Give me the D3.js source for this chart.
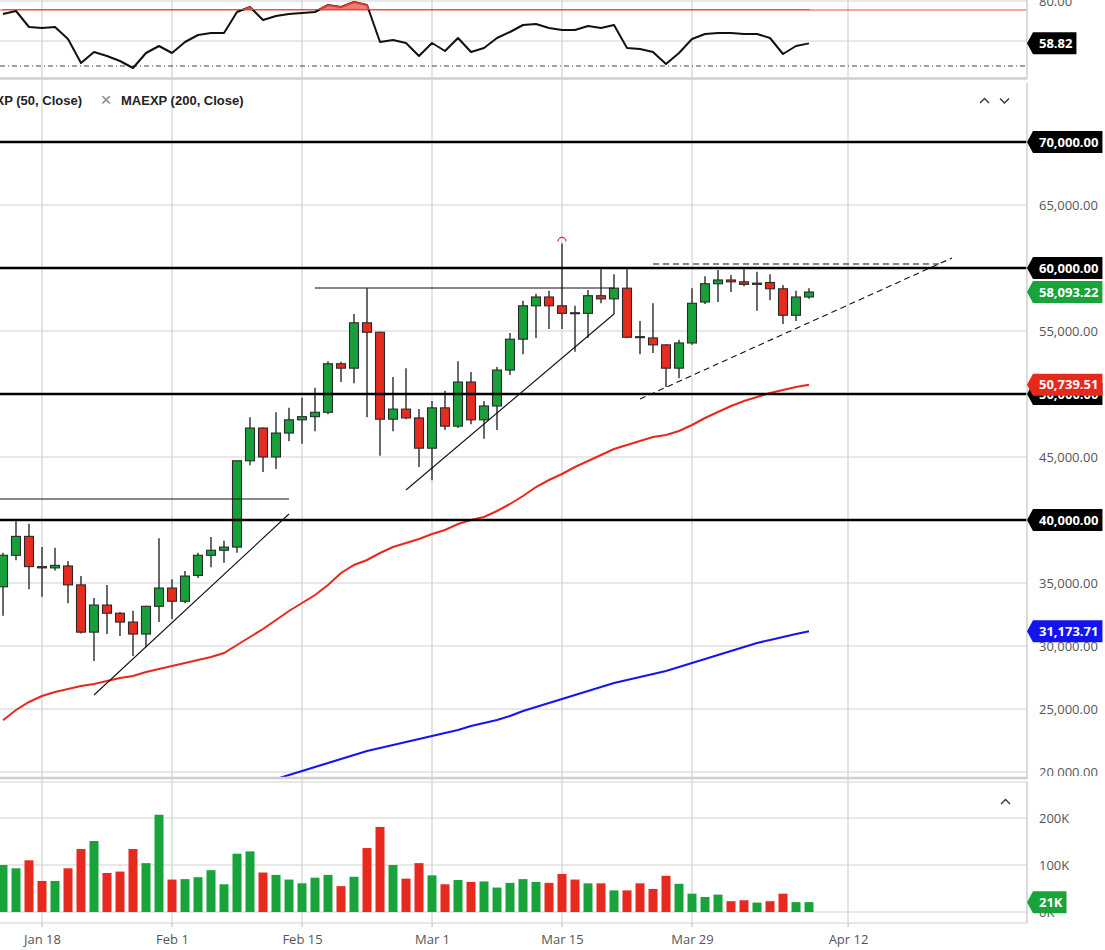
<!DOCTYPE html>
<html><head><meta charset="utf-8">
<script src="https://cdn.jsdelivr.net/npm/d3@7"></script>
<style>
body{margin:0;background:#fff;}
svg{display:block;font-family:"Open Sans",sans-serif;}
</style>
</head><body>
<svg id="chart" width="1105" height="950"></svg>
<script>
// ---------------- DATA ----------------
const tradeDates = [
"2021-01-13","2021-01-14","2021-01-15",
"2021-01-18","2021-01-19","2021-01-20","2021-01-21","2021-01-22",
"2021-01-25","2021-01-26","2021-01-27","2021-01-28","2021-01-29",
"2021-02-01","2021-02-02","2021-02-03","2021-02-04","2021-02-05",
"2021-02-08","2021-02-09","2021-02-10","2021-02-11","2021-02-12",
"2021-02-15","2021-02-16","2021-02-17","2021-02-18","2021-02-19",
"2021-02-22","2021-02-23","2021-02-24","2021-02-25","2021-02-26",
"2021-03-01","2021-03-02","2021-03-03","2021-03-04","2021-03-05",
"2021-03-08","2021-03-09","2021-03-10","2021-03-11","2021-03-12",
"2021-03-15","2021-03-16","2021-03-17","2021-03-18","2021-03-19",
"2021-03-22","2021-03-23","2021-03-24","2021-03-25","2021-03-26",
"2021-03-29","2021-03-30","2021-03-31","2021-04-01","2021-04-02",
"2021-04-05","2021-04-06","2021-04-07","2021-04-08","2021-04-09"];

const opens = [34700,37200,38700,36300,36200,36350,34850,31100,33250,32600,
31900,30950,33150,34600,33550,35600,37200,37600,37850,44700,
47300,45000,46900,47950,48200,48550,52400,52050,55650,54900,
48000,48800,48100,45700,48900,47450,50950,47950,49050,51900,
54350,57000,57700,57000,56450,56400,57800,57550,58400,54550,
54450,53900,52050,54050,57300,58750,59050,58900,58700,58850,
58350,56250,57700];
const highs = [37400,39900,39700,37850,37800,36750,35550,33800,34850,32700,
32800,33200,38550,35300,35950,37400,38650,38350,44700,48150,
47350,48550,48900,49700,50500,52600,52550,56350,58400,54950,
51350,52050,48800,49450,50250,52600,51750,49450,52150,54850,
57400,57950,58200,61950,57000,58250,59900,59500,59900,55800,
57200,53950,54300,58400,59350,59850,59450,59900,59700,59500,
58650,58200,58400];
const lows = [32400,36800,34500,33900,36000,33400,31000,28800,30950,30800,
29200,29900,31900,32150,33400,35400,36250,36600,37400,44350,
43800,44050,46250,46050,47050,48400,50950,50850,48150,45100,
47050,48000,44200,43150,47150,47300,47600,46450,47150,51500,
53150,54450,55150,55150,53350,54450,57200,56350,54450,53150,
53250,50550,51250,53900,57150,57300,58100,58550,56600,57450,
55550,55800,57550];
const closes = [37200,38700,36300,36200,36400,34850,31100,33250,32600,31900,
30950,33150,34600,33550,35550,37200,37600,37850,44700,47300,
45000,46900,47950,48200,48550,52400,52050,55650,54900,48000,
48800,48100,45700,48900,47450,50950,47950,49050,51900,54350,
57000,57700,57000,56400,56400,57800,57550,58400,54500,54500,
53900,52050,54050,57200,58750,59050,58900,58700,58800,58350,
56250,57700,58093.22];
const volumes = [100000,93000,110000,66000,66000,93000,134000,151000,83000,86000,
134000,104000,207000,69000,70000,74000,89000,59000,124000,129000,
84000,79000,69000,61000,73000,79000,55000,75000,136000,181000,
100000,71000,104000,78000,59000,68000,64000,65000,52000,62000,
70000,64000,62000,81000,69000,61000,61000,46000,46000,61000,
49000,77000,60000,39000,32000,37000,23000,25000,20000,23000,
39000,21000,21000];
const maexp50 = [24100,24921,25556,26032,26349,26587,26825,26984,27222,27460,
27619,27937,28175,28413,28651,28889,29127,29444,30079,30714,
31349,32063,32778,33413,34048,34841,35794,36429,36825,37381,
37857,38175,38492,38889,39206,39683,40000,40238,40714,41270,
41905,42619,43175,43651,44206,44683,45159,45635,45952,46270,
46587,46746,47063,47540,48095,48571,49048,49444,49762,50079,
50317,50556,50739.51];
const maexp200 = [null,null,null,null,null,null,null,null,null,null,
null,null,null,null,null,null,null,null,null,null,
null,19444,19762,20079,20397,20714,21032,21349,21667,21905,
22143,22381,22619,22857,23095,23333,23651,23889,24127,24444,
24841,25159,25476,25794,26111,26429,26746,27063,27302,27540,
27778,28016,28333,28651,28968,29286,29603,29921,30238,30476,
30714,30952,31173.71];
const oscValues = [73.5,75,67,66.5,67,61,49,54.5,52.5,50,
46.5,54,57.5,54,59.5,63,64,64,74.5,77,
70.5,72.5,73.5,74,74.5,78,77,79.5,78,59.5,
60.5,59,52.5,59,55,61.5,54.5,56.5,61.5,64.5,
68,68.5,66.5,65.5,65.5,67.5,66.5,68,56.5,56,
54.5,48.5,54,61,63.5,64,64,63.5,63.5,61.5,
53.5,57.5,58.82];
const oscUpper = 75.5;
const oscLower = 47.5;

const priceTicks = [20000,25000,30000,35000,40000,45000,50000,55000,60000,65000,70000];
const volumeTicks = [0,100000,200000];
const oscTicks = [60,80];
const dateTicks = ["2021-01-18","2021-02-01","2021-02-15","2021-03-01","2021-03-15","2021-03-29","2021-04-12"];
const dateTickLabels = ["Jan 18","Feb 1","Feb 15","Mar 1","Mar 15","Mar 29","Apr 12"];

const keyLevels = [70000,60000,50000,40000];
// drawn lines: from/to dates (null = left edge), price at each end
const drawnLines = [
  {from:null,         to:"2021-02-12", p1:41667, p2:41667, dashed:false},
  {from:"2021-01-22", to:"2021-02-12", p1:26111, p2:40476, dashed:false},
  {from:"2021-02-16", to:"2021-03-19", p1:58413, p2:58413, dashed:false},
  {from:"2021-02-25", to:"2021-03-19", p1:42381, p2:56349, dashed:false},
  {from:"2021-03-23", to:"2021-04-20", p1:49603, p2:60794, dashed:true},
  {from:"2021-03-24", to:"2021-04-19", p1:60317, p2:60317, dashed:true}
];
const legendLabels = ["MAEXP (50, Close)","MAEXP (200, Close)"];

// ---------------- LAYOUT ----------------
const svg = d3.select("#chart");
const plotRight = 1027;
const C = {green:"#17a03a", red:"#e62b1f", blue:"#1414ee", grid:"#d2d2d2", axis:"#555"};

const parse = d3.utcParse("%Y-%m-%d");
const lastIdx = tradeDates.length - 1;
const lastDate = parse(tradeDates[lastIdx]);
function idxOf(s){
  const i = tradeDates.indexOf(s);
  if (i >= 0) return i;
  return lastIdx + d3.utcDay.count(lastDate, parse(s));
}
const x = d3.scaleLinear().domain([0, lastIdx]).range([3, 809]);
const xLeft = x.invert(0);

const yOsc = d3.scaleLinear().domain([60,80]).range([41,1]);
const yP = d3.scaleLinear().domain([20000,70000]).range([772,142]);
const yV = d3.scaleLinear().domain([0,200000]).range([912,818]);

const panels = {
  osc:{top:-8, bottom:78},
  main:{top:82, bottom:776},
  vol:{top:782, bottom:923}
};
const defs = svg.append("defs");
Object.entries(panels).forEach(([k,p])=>{
  defs.append("clipPath").attr("id","clip-"+k).append("rect")
    .attr("x",0).attr("y",p.top).attr("width",plotRight).attr("height",p.bottom-p.top+1);
  // axis groups are translated by plotRight, so their clip is in local coords
  defs.append("clipPath").attr("id","clipax-"+k).append("rect")
    .attr("x",0).attr("y",p.top).attr("width",100).attr("height",p.bottom-p.top);
});

// vertical grid lines
const vg = svg.append("g");
vg.selectAll("line").data(dateTicks).join("line")
  .attr("x1",d=>x(idxOf(d))).attr("x2",d=>x(idxOf(d)))
  .attr("y1",0).attr("y2",927).attr("stroke",C.grid).attr("stroke-width",1.2);

// ---------------- OSCILLATOR PANEL ----------------
const gO = svg.append("g").attr("clip-path","url(#clip-osc)");
gO.selectAll("line.h").data(oscTicks).join("line").attr("class","h")
  .attr("x1",0).attr("x2",plotRight).attr("y1",d=>yOsc(d)).attr("y2",d=>yOsc(d))
  .attr("stroke",C.grid).attr("stroke-width",1.2);
gO.append("line").attr("x1",0).attr("x2",plotRight).attr("y1",yOsc(oscUpper)).attr("y2",yOsc(oscUpper))
  .attr("stroke","#ee4b3f").attr("stroke-width",1.2);
gO.append("line").attr("x1",0).attr("x2",plotRight).attr("y1",yOsc(oscLower)).attr("y2",yOsc(oscLower))
  .attr("stroke","#444").attr("stroke-width",1).attr("stroke-dasharray","5,3,1,3");
const oscLine = d3.line().x((d,i)=>x(i)).y(d=>yOsc(d));
gO.append("path").datum(oscValues).attr("d",oscLine).attr("fill","none")
  .attr("stroke","#111").attr("stroke-width",2).attr("stroke-linejoin","round");
defs.append("clipPath").attr("id","clip-ob").append("rect")
  .attr("x",0).attr("y",-10).attr("width",plotRight).attr("height",yOsc(oscUpper)+10);
const oscArea = d3.area().x((d,i)=>x(i)).y0(yOsc(oscUpper)).y1(d=>yOsc(d));
gO.append("g").attr("clip-path","url(#clip-ob)").append("path").datum(oscValues)
  .attr("d",oscArea).attr("fill","rgba(236,80,70,0.75)").attr("stroke","#e53b30").attr("stroke-width",1.5);

// ---------------- MAIN PANEL ----------------
const gM = svg.append("g").attr("clip-path","url(#clip-main)");
gM.selectAll("line.h").data(priceTicks).join("line").attr("class","h")
  .attr("x1",0).attr("x2",plotRight).attr("y1",d=>yP(d)).attr("y2",d=>yP(d))
  .attr("stroke",C.grid).attr("stroke-width",1.2);

// moving averages
const maLine = d3.line().defined(d=>d!=null).x((d,i)=>x(i)).y(d=>yP(d));
gM.append("path").datum(maexp50).attr("d",maLine).attr("fill","none").attr("stroke","#e8281c").attr("stroke-width",2);
gM.append("path").datum(maexp200).attr("d",maLine).attr("fill","none").attr("stroke",C.blue).attr("stroke-width",2);

// candles
const idx = d3.range(tradeDates.length);
const bw = 9;
const cg = gM.append("g");
cg.selectAll("line.w").data(idx).join("line").attr("class","w")
  .attr("x1",i=>x(i)).attr("x2",i=>x(i)).attr("y1",i=>yP(highs[i])).attr("y2",i=>yP(lows[i]))
  .attr("stroke","#444").attr("stroke-width",1.6);
cg.selectAll("rect").data(idx).join("rect")
  .attr("x",i=>x(i)-bw/2).attr("width",bw)
  .attr("y",i=>yP(Math.max(opens[i],closes[i])))
  .attr("height",i=>Math.max(1,Math.abs(yP(opens[i])-yP(closes[i]))))
  .attr("fill",i=>closes[i]>=opens[i]?C.green:C.red)
  .attr("stroke","#2a2a2a").attr("stroke-width",1.1);

// highest-high marker
const hiI = d3.maxIndex(highs);
const hx = x(hiI), hy = yP(highs[hiI]) - 3;
gM.append("path").attr("d",`M${hx-4},${hy+1} A4,4 0 0 1 ${hx+4},${hy+1}`)
  .attr("fill","none").attr("stroke","#e8281c").attr("stroke-width",1.2);

// key levels
gM.selectAll("line.k").data(keyLevels).join("line").attr("class","k")
  .attr("x1",0).attr("x2",plotRight).attr("y1",d=>yP(d)).attr("y2",d=>yP(d))
  .attr("stroke","#000").attr("stroke-width",2.6);

// drawn lines
gM.selectAll("line.d").data(drawnLines).join("line").attr("class","d")
  .attr("x1",d=>d.from?x(idxOf(d.from)):x(xLeft)).attr("x2",d=>x(idxOf(d.to)))
  .attr("y1",d=>yP(d.p1)).attr("y2",d=>yP(d.p2))
  .attr("stroke","#111").attr("stroke-width",1.1)
  .attr("stroke-dasharray",d=>d.dashed?"6,4":null);

// legend
const lg = svg.append("g").attr("font-family","'Liberation Sans',Arial,sans-serif")
  .attr("font-size",13).attr("font-weight",700).attr("fill","#222");
lg.append("text").attr("x",82).attr("y",100).attr("dy","0.35em").attr("text-anchor","end").text(legendLabels[0]);
lg.append("text").attr("x",106).attr("y",99).attr("dy","0.35em").attr("text-anchor","middle")
  .attr("font-weight",400).attr("font-size",19).attr("fill","#8a8a8a").text("×");
lg.append("text").attr("x",121).attr("y",100).attr("dy","0.35em").text(legendLabels[1]);

// chevrons
const chev = svg.append("g").attr("fill","none").attr("stroke","#333").attr("stroke-width",1.4);
chev.append("path").attr("d","M980,103 L984.5,98.5 L989,103");
chev.append("path").attr("d","M1000,98.5 L1004.5,103 L1009,98.5");
chev.append("path").attr("d","M1001,804 L1005.5,799.5 L1010,804");

// ---------------- VOLUME PANEL ----------------
const gV = svg.append("g").attr("clip-path","url(#clip-vol)");
gV.selectAll("line.h").data(volumeTicks).join("line").attr("class","h")
  .attr("x1",0).attr("x2",plotRight).attr("y1",d=>yV(d)).attr("y2",d=>yV(d))
  .attr("stroke",C.grid).attr("stroke-width",1.2);
gV.selectAll("rect").data(idx).join("rect")
  .attr("x",i=>x(i)-bw/2).attr("width",bw)
  .attr("y",i=>yV(volumes[i])).attr("height",i=>yV(0)-yV(volumes[i]))
  .attr("fill",i=>closes[i]>=opens[i]?"#18a33b":"#e8291f");

// ---------------- FRAMES ----------------
const fr = svg.append("g").attr("stroke","#cfcfcf").attr("fill","none");
fr.append("line").attr("x1",0).attr("x2",plotRight).attr("y1",78.5).attr("y2",78.5).attr("stroke-width",2.5);
fr.append("line").attr("x1",0).attr("x2",plotRight).attr("y1",778).attr("y2",778).attr("stroke-width",2.5);
fr.append("line").attr("x1",0).attr("x2",plotRight).attr("y1",782).attr("y2",782).attr("stroke-width",1.2);
fr.append("line").attr("x1",0).attr("x2",plotRight).attr("y1",923).attr("y2",923).attr("stroke-width",1.2);
fr.append("line").attr("x1",plotRight).attr("x2",plotRight).attr("y1",0).attr("y2",79).attr("stroke-width",1.5);
fr.append("line").attr("x1",plotRight).attr("x2",plotRight).attr("y1",83).attr("y2",779).attr("stroke-width",1.5);
fr.append("line").attr("x1",plotRight).attr("x2",plotRight).attr("y1",782).attr("y2",923).attr("stroke-width",1.5);

// ---------------- AXES ----------------
function styleAxis(g){
  g.select(".domain").remove();
  g.selectAll("text").attr("fill",C.axis).attr("font-size",13).attr("font-family","'Open Sans',sans-serif");
  g.selectAll(".tick line").attr("stroke",C.grid);
}
svg.append("g").attr("transform",`translate(${plotRight},0)`).attr("clip-path","url(#clipax-main)")
  .call(d3.axisRight(yP).tickValues(priceTicks).tickSize(0).tickPadding(12).tickFormat(d3.format(",.2f")))
  .call(styleAxis);
svg.append("g").attr("transform",`translate(${plotRight},0)`).attr("clip-path","url(#clipax-osc)")
  .call(d3.axisRight(yOsc).tickValues(oscTicks).tickSize(0).tickPadding(12).tickFormat(d3.format(".2f")))
  .call(styleAxis);
svg.append("g").attr("transform",`translate(${plotRight},0)`)
  .call(d3.axisRight(yV).tickValues(volumeTicks).tickSize(0).tickPadding(12).tickFormat(d=>(d/1000)+"K"))
  .call(styleAxis);
svg.append("g").attr("transform","translate(0,923)")
  .call(d3.axisBottom(x).tickValues(dateTicks.map(idxOf)).tickSize(4).tickPadding(8)
    .tickFormat((d,i)=>dateTickLabels[i]))
  .call(styleAxis);

// ---------------- VALUE TAGS ----------------
function tag(yPos, text, fill){
  const g = svg.append("g").attr("transform",`translate(${plotRight},${yPos})`);
  const t = g.append("text").text(text).attr("x",12).attr("dy","0.36em")
    .attr("font-weight",700).attr("font-size",13).attr("fill","#fff")
    .attr("font-family","'Open Sans',sans-serif");
  const w = t.node().getComputedTextLength();
  g.insert("path","text").attr("d",`M0,0 L6,-11 H${12+w+4} V11 H6 Z`).attr("fill",fill);
}
tag(yP(keyLevels[0]), d3.format(",.2f")(keyLevels[0]), "#000");
tag(yP(keyLevels[1]), d3.format(",.2f")(keyLevels[1]), "#000");
tag(yP(keyLevels[3]), d3.format(",.2f")(keyLevels[3]), "#000");
tag(yP(keyLevels[2]), d3.format(",.2f")(keyLevels[2]), "#000");
tag(yP(maexp50[lastIdx]), d3.format(",.2f")(maexp50[lastIdx]), "#e8281c");
tag(yP(closes[lastIdx]), d3.format(",.2f")(closes[lastIdx]), "#18a33b");
tag(yP(maexp200[lastIdx]), d3.format(",.2f")(maexp200[lastIdx]), C.blue);
tag(yOsc(oscValues[lastIdx]), d3.format(".2f")(oscValues[lastIdx]), "#000");
tag(yV(volumes[lastIdx]), Math.round(volumes[lastIdx]/1000)+"K", "#18a33b");
</script>
</body></html>
